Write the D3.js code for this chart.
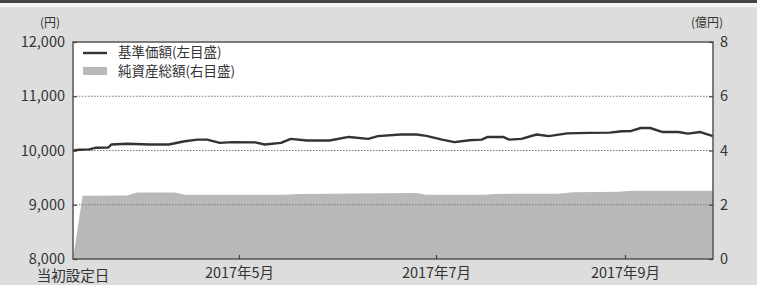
<!DOCTYPE html>
<html>
<head>
<meta charset="utf-8">
<script src="https://cdn.jsdelivr.net/npm/d3@7"></script>
<style>
  body { margin: 0; background: #dddddd; }
  svg { display: block; }
  text { font-family: "Noto Sans CJK JP", "Noto Sans", sans-serif; fill: #333; }
</style>
</head>
<body>
<svg id="chart"></svg>
<script>
// 基準価額 (円)
var navDates = ["2017-03-10","2017-03-12","2017-03-15","2017-03-17","2017-03-21","2017-03-22","2017-03-27",
  "2017-04-03","2017-04-09","2017-04-14","2017-04-18","2017-04-21","2017-04-25","2017-04-29",
  "2017-05-06","2017-05-09","2017-05-14","2017-05-17","2017-05-22","2017-05-29",
  "2017-06-04","2017-06-10","2017-06-13","2017-06-20","2017-06-25","2017-06-28",
  "2017-07-03","2017-07-07","2017-07-12","2017-07-16","2017-07-18","2017-07-23","2017-07-25","2017-07-29",
  "2017-08-03","2017-08-07","2017-08-13","2017-08-20","2017-08-27","2017-08-31",
  "2017-09-03","2017-09-06","2017-09-09","2017-09-13","2017-09-18","2017-09-21","2017-09-25","2017-09-29"];
var navValues = [10000,10015,10020,10050,10055,10110,10125,
  10110,10110,10170,10200,10200,10140,10155,
  10150,10110,10140,10215,10185,10185,
  10250,10215,10265,10295,10295,10270,
  10200,10155,10190,10200,10250,10250,10200,10215,
  10295,10265,10315,10325,10330,10355,
  10360,10415,10415,10340,10340,10310,10340,10265];

// 純資産総額 (億円)
var assetDates = ["2017-03-10","2017-03-13","2017-03-27","2017-03-30","2017-04-11","2017-04-14",
  "2017-05-15","2017-05-20","2017-06-15","2017-06-25","2017-06-28","2017-07-17","2017-07-20",
  "2017-08-10","2017-08-15","2017-08-30","2017-09-03","2017-09-29"];
var assetValues = [0,2.33,2.34,2.45,2.45,2.37,2.37,2.40,2.42,2.43,2.37,2.37,2.40,2.41,2.46,2.48,2.52,2.52];

var leftTicks = [8000, 9000, 10000, 11000, 12000];
var rightTicks = [0, 2, 4, 6, 8];
var xTickDates = ["2017-05-01", "2017-07-01", "2017-09-01"];
var xTickLabels = ["2017年5月", "2017年7月", "2017年9月"];
var startLabel = "当初設定日";
var legendNames = ["基準価額(左目盛)", "純資産総額(右目盛)"];

var width = 757, height = 285;
var plotLeft = 73, plotRight = 713, plotTop = 42, plotBottom = 259;

var parse = d3.timeParse("%Y-%m-%d");
var nav = navDates.map(function(d, i){ return {date: parse(d), value: navValues[i]}; });
var assets = assetDates.map(function(d, i){ return {date: parse(d), value: assetValues[i]}; });

var svg = d3.select("#chart").attr("width", width).attr("height", height);

// header strip
svg.append("rect").attr("x", 0).attr("y", 0).attr("width", width).attr("height", 3).attr("fill", "#444");
svg.append("rect").attr("x", 0).attr("y", 3).attr("width", width).attr("height", 4).attr("fill", "#f4f4f4");

var x = d3.scaleTime()
  .domain([parse("2017-03-10")].concat(xTickDates.map(parse), [parse("2017-09-29")]))
  .range([plotLeft, 239, 436, 625, plotRight]);
var yL = d3.scaleLinear().domain([8000, 12000]).range([plotBottom, plotTop]);
var yR = d3.scaleLinear().domain([0, 8]).range([plotBottom, plotTop]);

svg.append("rect").attr("x", plotLeft).attr("y", plotTop)
  .attr("width", plotRight - plotLeft).attr("height", plotBottom - plotTop).attr("fill", "#fff");

// net assets area
svg.append("path").datum(assets)
  .attr("fill", "#b9b9b9")
  .attr("d", d3.area().x(function(d){ return x(d.date); }).y0(yR(0)).y1(function(d){ return yR(d.value); }));

// dotted grid
svg.selectAll(".grid").data(leftTicks.slice(1, -1)).enter().append("line")
  .attr("x1", plotLeft).attr("x2", plotRight)
  .attr("y1", function(d){ return yL(d); }).attr("y2", function(d){ return yL(d); })
  .attr("stroke", "#777").attr("stroke-width", 1).attr("stroke-dasharray", "1.5,1.5");

// NAV line
svg.append("path").datum(nav)
  .attr("fill", "none").attr("stroke", "#333").attr("stroke-width", 2.4)
  .attr("stroke-linejoin", "round")
  .attr("d", d3.line().x(function(d){ return x(d.date); }).y(function(d){ return yL(d.value); }));

// frame
svg.append("rect").attr("x", plotLeft).attr("y", plotTop)
  .attr("width", plotRight - plotLeft).attr("height", plotBottom - plotTop)
  .attr("fill", "none").attr("stroke", "#555").attr("stroke-width", 1.5);

// axes
var fmt = d3.format(",");
var gL = svg.append("g").attr("transform", "translate(" + plotLeft + ",0)")
  .call(d3.axisLeft(yL).tickValues(leftTicks).tickFormat(fmt).tickSizeInner(-4).tickSizeOuter(0).tickPadding(8));
var gR = svg.append("g").attr("transform", "translate(" + plotRight + ",0)")
  .call(d3.axisRight(yR).tickValues(rightTicks).tickSizeInner(-4).tickSizeOuter(0).tickPadding(7));
var gX = svg.append("g").attr("transform", "translate(0," + plotBottom + ")")
  .call(d3.axisBottom(x).tickValues(xTickDates.map(parse))
    .tickFormat(function(d, i){ return xTickLabels[i]; }).tickSizeInner(-4).tickSizeOuter(0).tickPadding(9));
[gL, gR, gX].forEach(function(g){
  g.select(".domain").remove();
  g.selectAll(".tick line").attr("stroke", "#444").attr("stroke-width", 1.2);
  g.selectAll("text").attr("font-size", 14.5).attr("fill", "#333")
    .style("font-family", '"Noto Sans CJK JP", sans-serif');
});
svg.append("text").attr("x", plotLeft).attr("y", plotBottom + 22).attr("text-anchor", "middle")
  .attr("font-size", 14.5).text(startLabel);

// unit labels
svg.append("text").attr("x", 50).attr("y", 27).attr("text-anchor", "middle").attr("font-size", 12).text("(円)");
svg.append("text").attr("x", 707).attr("y", 27).attr("text-anchor", "middle").attr("font-size", 12).text("(億円)");

// legend
var lg = svg.append("g");
lg.append("line").attr("x1", 83).attr("x2", 107).attr("y1", 53).attr("y2", 53)
  .attr("stroke", "#333").attr("stroke-width", 2.4);
lg.append("rect").attr("x", 83).attr("y", 67).attr("width", 24).attr("height", 8).attr("fill", "#b9b9b9");
lg.selectAll("text").data(legendNames).enter().append("text")
  .attr("x", 118).attr("y", function(d, i){ return 57 + i * 19; })
  .attr("font-size", 13.5).text(function(d){ return d; });
</script>
</body>
</html>
